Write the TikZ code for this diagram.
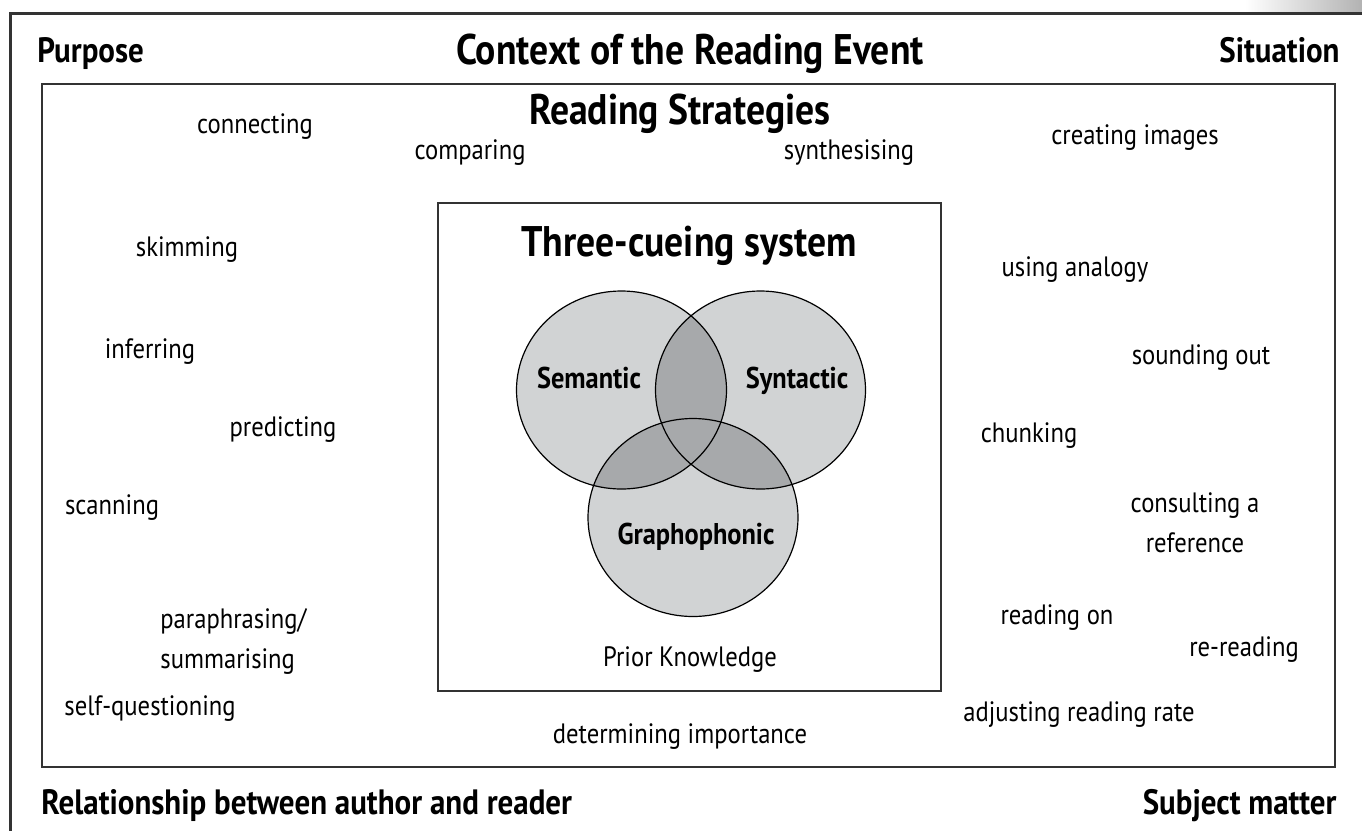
\documentclass[tikz,border=0pt]{standalone}
\usepackage{fontspec}
\setmainfont{PT Sans}[FakeStretch=0.88]
\definecolor{vennlight}{HTML}{D1D3D4}
\definecolor{venndark}{HTML}{A7A9AB}
\definecolor{framegray}{HTML}{333333}
\begin{document}
\begin{tikzpicture}[x=0.5pt,y=-0.5pt,
  txt/.style={inner sep=0pt, font=\fontsize{14}{16}\selectfont},
  corner/.style={inner sep=0pt, font=\bfseries\fontsize{17.6}{19}\selectfont},
  heading/.style={inner sep=0pt, font=\bfseries\fontsize{21.4}{24}\selectfont},
  cue/.style={inner sep=0pt, font=\bfseries\fontsize{15}{17}\selectfont},
  vennline/.style={draw=black, line width=0.6pt}]
\useasboundingbox (0,0) rectangle (1362,831);
\fill[white] (0,0) rectangle (1362,831);

% page tab and outer frame
\shade[left color=white, right color=black!30] (1245,0) rectangle (1362,12);
\draw[framegray, line width=1.5pt] (1362,13) -- (10,13) -- (10,831);

% boxes
\draw[black!80, line width=0.8pt] (42,84) rectangle (1335,767);
\draw[black!80, line width=0.7pt] (438,203) rectangle (941,691);

% Venn diagram of the three cueing systems
\def\semE{(621.5,390) ellipse [x radius=52.5pt, y radius=49.5pt]}
\def\synE{(760.5,390) ellipse [x radius=52.5pt, y radius=49.5pt]}
\def\graE{(693,517.5) ellipse [x radius=52.5pt, y radius=49.5pt]}
\fill[vennlight] \semE;
\fill[vennlight] \synE;
\fill[vennlight] \graE;
\begin{scope}\clip \semE; \fill[venndark] \synE; \end{scope}
\begin{scope}\clip \semE; \fill[venndark] \graE; \end{scope}
\begin{scope}\clip \synE; \fill[venndark] \graE; \end{scope}
\draw[vennline] \semE;
\draw[vennline] \synE;
\draw[vennline] \graE;

% headings
\node[corner, anchor=base west] (purpose) at (37,62) {Purpose};
\node[heading, anchor=base] (context) at (690,64) {Context of the Reading Event};
\node[corner, anchor=base east] (situation) at (1340,62) {Situation};
\node[heading, anchor=base] (strategies) at (680,124) {Reading Strategies};
\node[heading, anchor=base] (cueing) at (689,256) {Three-cueing system};
\node[corner, anchor=base west] (relationship) at (41,814) {Relationship between author and reader};
\node[corner, anchor=base east] (subject) at (1337,814) {Subject matter};

% cueing systems
\node[cue, anchor=base] (semantic) at (589,388) {Semantic};
\node[cue, anchor=base] (syntactic) at (797,388) {Syntactic};
\node[cue, anchor=base] (grapho) at (696,544) {Graphophonic};
\node[txt, anchor=base] (prior) at (690,666) {Prior Knowledge};

% strategies
\node[txt] (connecting) at (255,127) {connecting};
\node[txt] (comparing) at (470,153) {comparing};
\node[txt] (synth) at (849,153) {synthesising};
\node[txt] (images) at (1135,138) {creating images};
\node[txt] (skimming) at (187,250) {skimming};
\node[txt] (analogy) at (1075,270) {using analogy};
\node[txt] (inferring) at (150,352) {inferring};
\node[txt] (sounding) at (1201,358) {sounding out};
\node[txt] (predicting) at (283,430) {predicting};
\node[txt] (chunking) at (1029,436) {chunking};
\node[txt] (scanning) at (112,508) {scanning};
\node[txt, align=center] (consulting) at (1195,523) {consulting a\\[4pt]reference};
\node[txt, align=left, anchor=west] (paraphrasing) at (160,641) {paraphrasing/\\[4pt]summarising};
\node[txt] (readingon) at (1057,618) {reading on};
\node[txt] (rereading) at (1244,650) {re-reading};
\node[txt] (adjusting) at (1079,715) {adjusting reading rate};
\node[txt] (selfq) at (150,709) {self-questioning};
\node[txt] (importance) at (680,737) {determining importance};
\end{tikzpicture}
\end{document}
